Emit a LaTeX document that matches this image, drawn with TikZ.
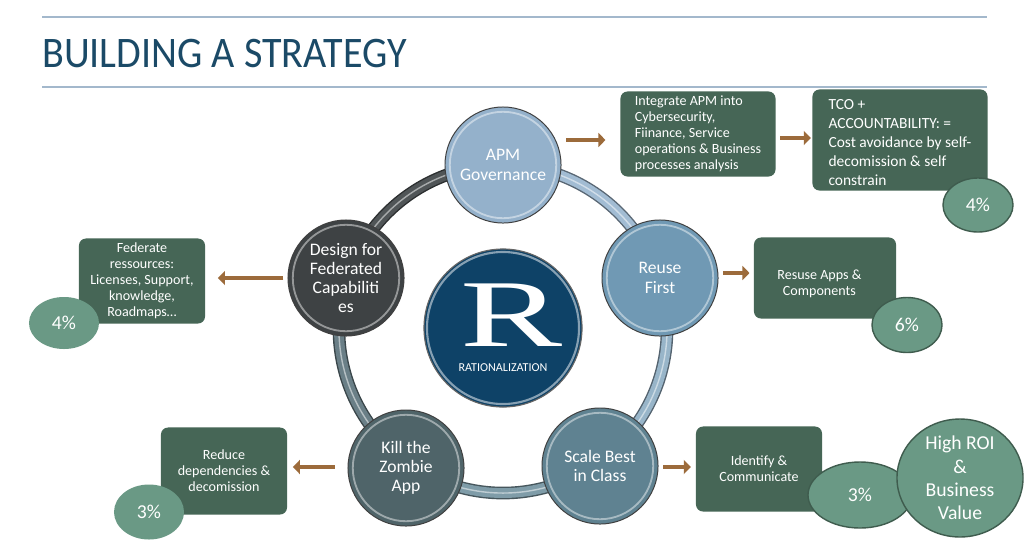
\documentclass[tikz,border=0pt]{standalone}
\usepackage{fontspec}
\setmainfont{Carlito}
\newfontfamily\bigserif{Liberation Serif}
\usepackage{graphicx}
\usetikzlibrary{shapes.geometric,arrows.meta}

\definecolor{titleblue}{HTML}{1B4A67}
\definecolor{ruleblue}{HTML}{A3B8CC}
\definecolor{boxgreen}{HTML}{466656}
\definecolor{pctfill}{HTML}{6A9985}
\definecolor{pctline}{HTML}{3F5C4E}
\definecolor{arrowbrown}{HTML}{9C6B3B}
\definecolor{apmblue}{HTML}{94B1CB}
\definecolor{reuseblue}{HTML}{7099B4}
\definecolor{scaleblue}{HTML}{5F8291}
\definecolor{killgray}{HTML}{4F6469}
\definecolor{designgray}{HTML}{3E4244}
\definecolor{rnavy}{HTML}{0E4267}
\definecolor{ringA}{HTML}{A2BCD3}
\definecolor{ringB}{HTML}{98B5C9}
\definecolor{ringC}{HTML}{7F9CA8}
\definecolor{ringD}{HTML}{6A7F87}
\definecolor{ringE}{HTML}{505557}

\tikzset{
  ball/.style={circle, minimum size=2.9cm, inner sep=0pt, fill=#1, draw=black!75,
    line width=0.7pt, text=white, align=center,
    font=\fontsize{12.5}{13.7}\selectfont,
    path picture={\draw[white, opacity=.45, line width=1.3pt]
      (path picture bounding box.center) circle (1.33cm);}},
  box/.style={rectangle, rounded corners=5pt, fill=boxgreen, text=white, inner sep=0pt,
    font=\fontsize{10}{11.4}\selectfont},
  pct/.style={ellipse, inner sep=0pt, fill=pctfill, draw=pctline, line width=1pt,
    text=white, font=\fontsize{14}{16.5}\selectfont},
  pctflat/.style={pct, draw=none},
  flow/.style={arrowbrown, line width=3.5pt, -{Triangle[length=5pt,width=10pt]}}
}

\begin{document}
\begin{tikzpicture}[x=0.025cm, y=-0.025cm]
  \fill[white] (0,0) rectangle (1024,547);
  \useasboundingbox (0,0) rectangle (1024,547);

  % title and rules
  \draw[ruleblue, line width=1.5pt] (42,17) -- (987,17);
  \draw[ruleblue, line width=1.5pt] (42,87) -- (987,87);
  \node[anchor=base west, inner sep=0pt, text=titleblue, font=\fontsize{31}{34}\selectfont]
    (title) at (42,67) {\scalebox{0.92}[1]{BUILDING A STRATEGY}};

  % ring
  \coordinate (ring) at (503,329);
  \foreach \a/\b/\c in {90/18/ringA, 18/-54/ringB, -54/-126/ringC, -126/-198/ringD, -198/-270/ringE} {
    \draw[line width=9pt, \c!55!black] (ring) ++(\a:4.1cm) arc[start angle=\a, end angle=\b, radius=4.1cm];
    \draw[line width=7pt, \c] (ring) ++(\a:4.1cm) arc[start angle=\a, end angle=\b, radius=4.1cm];
    \draw[line width=1pt, white, opacity=.5] (ring) ++(\a:4.1cm) arc[start angle=\a, end angle=\b, radius=4.1cm];
  }

  % centre
  \node[circle, minimum size=3.95cm, inner sep=0pt, fill=rnavy, draw=black!60, line width=0.8pt,
    path picture={\draw[white, opacity=.5, line width=1.5pt]
      (path picture bounding box.center) circle (1.9cm);}] (rat) at (503,328) {};
  \node[text=white, inner sep=0pt, font=\bigserif\fontsize{68}{68}\selectfont] (rletter) at (512,315)
    {\scalebox{1.6}[1]{R}};
  \node[text=white, inner sep=0pt, font=\fontsize{8.6}{10}\selectfont] (ratlabel) at (503,368) {RATIONALIZATION};

  % steps on the ring
  \node[ball=apmblue] (apm) at (503,165) {APM\\Governance};
  \node[ball=reuseblue] (reuse) at (660,278) {Reuse\\First};
  \node[ball=scaleblue] (scale) at (600,466) {Scale Best\\in Class};
  \node[ball=killgray] (kill) at (406,468) {Kill the\\Zombie\\App};
  \node[ball=designgray] (design) at (346,278) {Design for\\Federated\\Capabiliti\\es};

  % outcome boxes
  \node[box, align=left, minimum width=3.875cm, minimum height=2.125cm] (integrate) at (698,134)
    {Integrate APM into\\Cybersecurity,\\Fiinance, Service\\operations \& Business\\processes analysis};
  \node[box, align=left, minimum width=4.375cm, minimum height=2.525cm,
    font=\fontsize{11}{13.5}\selectfont] (tco) at (900,140)
    {\raisebox{-5.5pt}[0pt][0pt]{\begin{tabular}{@{}l@{}}TCO +\\ACCOUNTABILITY: =\\Cost avoidance by self-\\decomission \& self\\constrain\end{tabular}}};
  \node[box, align=center, minimum width=3.15cm, minimum height=2.125cm] (federate) at (142,281)
    {Federate\\ressources:\\Licenses, Support,\\knowledge,\\Roadmaps\ldots};
  \node[box, align=center, minimum width=3.55cm, minimum height=2.025cm] (resuse) at (825,278)
    {\raisebox{-6.8pt}[0pt][0pt]{\begin{tabular}{@{}c@{}}Resuse Apps \&\\Components\end{tabular}}\hspace*{8pt}};
  \node[box, align=center, minimum width=3.15cm, minimum height=2.175cm] (reduce) at (224,471)
    {Reduce\\dependencies \&\\decomission};
  \node[box, align=center, minimum width=3.15cm, minimum height=2.125cm] (identify) at (759,469)
    {Identify \&\\Communicate};

  % arrows
  \draw[flow, shorten <=3.5pt, shorten >=10.5pt] (apm.east |- 0,140) -- (integrate.west |- 0,140);
  \draw[flow, shorten <=3pt, shorten >=1pt] (integrate.east |- 0,138) -- (tco.west |- 0,138);
  \draw[flow, shorten <=3pt, shorten >=9pt] (design.west |- 0,278) -- (federate.east |- 0,278);
  \draw[flow, shorten <=3.5pt, shorten >=3pt] (reuse.east |- 0,273) -- (resuse.west |- 0,273);
  \draw[flow, shorten <=9pt, shorten >=4pt] (kill.west |- 0,467) -- (reduce.east |- 0,467);
  \draw[flow, shorten <=3.5pt, shorten >=3.5pt] (scale.east |- 0,467) -- (identify.west |- 0,467);

  % percentages
  \node[pct, minimum width=1.75cm, minimum height=1.35cm] (pctTco) at (978,205) {4\%};
  \node[pctflat, minimum width=1.75cm, minimum height=1.3cm] (pctFed) at (64,323) {4\%};
  \node[pct, minimum width=1.75cm, minimum height=1.375cm] (pctReuse) at (907,325) {6\%};
  \node[pctflat, minimum width=1.75cm, minimum height=1.375cm] (pctReduce) at (149,512) {3\%};
  \node[pct, minimum width=2.6cm, minimum height=1.65cm] (pctIdent) at (860,495) {3\%};
  \node[pct, minimum width=3.15cm, minimum height=2.55cm, align=center] (roi) at (960,478)
    {High ROI\\\&\\Business\\Value};
\end{tikzpicture}
\end{document}
